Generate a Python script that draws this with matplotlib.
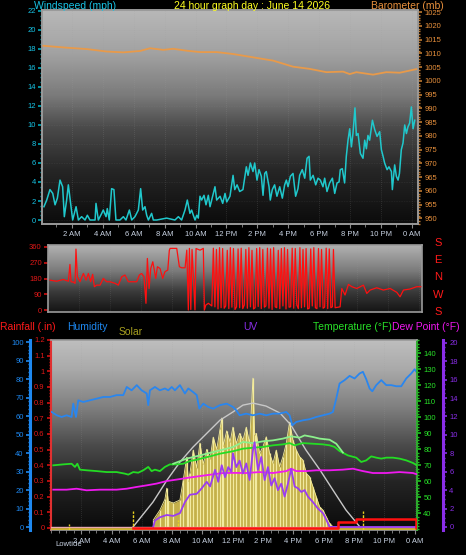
import numpy as np
import matplotlib
matplotlib.use('Agg')
import matplotlib.pyplot as plt
from matplotlib.colors import LinearSegmentedColormap
from matplotlib.ticker import MultipleLocator

plt.rcParams['font.family'] = ['Liberation Sans', 'DejaVu Sans']

# ---------------- data ----------------
hour_ticks = [2, 4, 6, 8, 10, 12, 14, 16, 18, 20, 22, 24]
hour_labels = ['2 AM', '4 AM', '6 AM', '8 AM', '10 AM', '12 PM', '2 PM', '4 PM', '6 PM', '8 PM', '10 PM', '0 AM']

wind_h = [0.19, 0.37, 0.58, 0.76, 0.91, 1.06, 1.23, 1.40, 1.51, 1.66, 1.77, 1.92, 2.05, 2.27, 2.42, 2.63, 2.85,
          3.00, 3.17, 3.50, 3.56, 3.71, 3.93, 4.03, 4.21, 4.29, 4.42, 4.57, 4.72, 4.85, 5.11, 5.33, 5.50, 5.72,
          5.87, 6.08, 6.30, 6.45, 6.58, 6.73, 6.84, 6.95, 7.16, 7.27, 7.49, 8.13, 8.67, 8.89, 9.10, 9.32, 9.47,
          9.64, 9.75, 9.86, 9.97, 10.08, 10.18, 10.29, 10.40, 10.55, 10.68, 10.83, 10.94, 11.11, 11.26, 11.37,
          11.59, 11.76, 11.91, 12.02, 12.23, 12.43, 12.54, 12.69, 12.86, 13.07, 13.29, 13.40, 13.55, 13.72,
          13.83, 13.98, 14.11, 14.26, 14.37, 14.48, 14.58, 14.76, 14.84, 14.97, 15.12, 15.27, 15.45, 15.62,
          15.77, 15.88, 15.99, 16.14, 16.31, 16.48, 16.63, 16.74, 16.91, 17.07, 17.22, 17.35, 17.43, 17.61,
          17.78, 17.93, 18.08, 18.25, 18.36, 18.51, 18.68, 18.86, 19.01, 19.16, 19.29, 19.37, 19.50, 19.65,
          19.76, 19.87, 19.98, 20.09, 20.19, 20.32, 20.41, 20.52, 20.67, 20.84, 20.95, 21.06, 21.16, 21.27,
          21.45, 21.60, 21.75, 21.92, 22.03, 22.14, 22.24, 22.40, 22.52, 22.68, 22.74, 22.89, 23.00, 23.11,
          23.20, 23.32, 23.43, 23.54, 23.65, 23.75, 23.86, 23.97, 24.08, 24.19]
wind_mph = [1.4, 2.1, 3.2, 2.8, 1.6, 2.3, 4.2, 3.5, 0.35, 2.1, 3.7, 1.75, 0.0, 1.4, 0.0, 0.35, 0.0,
            0.5, 0.0, 0.0, 1.75, 0.0, 0.7, 1.05, 0.35, 1.2, 0.0, 3.3, 3.2, 0.0, 0.0, 0.35, 0.0, 1.05,
            0.0, 0.35, 1.05, 3.3, 1.05, 1.4, 0.5, 0.0, 0.7, 0.0, 0.0, 0.2, 0.0, 0.35, 0.0, 1.05, 2.1,
            0.7, 1.05, 0.5, 0.0, 0.5, 0.2, 2.5, 2.1, 2.6, 1.6, 2.6, 1.4, 2.5, 3.5, 2.1,
            2.5, 1.75, 2.8, 1.9, 2.5, 4.7, 3.2, 3.7, 3.0, 3.2, 5.6, 4.7, 6.0, 5.1,
            6.0, 4.2, 5.3, 4.6, 2.6, 4.9, 5.1, 3.5, 2.1, 3.2, 3.7, 2.5, 3.5, 2.3,
            3.7, 4.2, 3.5, 4.6, 4.9, 2.5, 3.3, 4.7, 5.3, 4.4, 6.5, 6.7, 4.2, 4.7,
            3.7, 4.4, 4.2, 3.5, 4.4, 3.0, 3.9, 4.4, 2.8, 3.9, 4.0, 5.3, 5.4, 3.9,
            6.7, 8.4, 9.6, 7.7, 9.1, 11.8, 8.9, 9.1, 7.0, 6.5, 8.4, 7.5, 8.9, 8.4,
            10.5, 9.5, 8.8, 9.3, 7.4, 6.7, 6.0, 5.3, 5.6, 5.1, 3.2, 5.8, 4.6, 4.2,
            4.9, 7.4, 8.1, 10.0, 9.1, 9.8, 10.2, 11.9, 9.6, 10.5]

baro_h = [0.15, 1.66, 2.96, 4.25, 5.33, 6.41, 7.06, 7.92, 8.56, 9.43, 10.29, 11.37, 12.43, 13.72, 15.02,
          16.31, 17.39, 18.47, 19.55, 19.98, 20.41, 21.49, 22.35, 23.22, 24.29]
baro_mb = [1012.8, 1012.1, 1011.6, 1010.7, 1010.4, 1010.9, 1011.9, 1011.3, 1011.7, 1011.0, 1010.5, 1010.5,
           1009.8, 1008.6, 1007.4, 1005.2, 1004.4, 1003.2, 1003.4, 1002.5, 1003.2, 1002.3, 1003.2, 1003.0, 1004.3]

dir_h_a = [0.13, 0.56, 0.99, 1.21, 1.32, 1.42, 1.49, 1.64, 1.75, 1.81, 1.90, 2.07, 2.29, 2.46, 2.61, 2.76,
           2.89, 3.00, 3.15, 3.37, 3.58, 3.80, 4.01, 4.34, 4.55, 4.77, 4.98, 5.20, 5.52, 5.74, 5.91, 6.06,
           6.21, 6.34, 6.43, 6.54, 6.65, 6.78, 6.86, 6.97, 7.08, 7.25, 7.42, 7.57, 7.75, 7.85, 7.90, 8.11,
           8.33, 8.50, 8.65, 8.87, 8.98, 9.08, 9.15, 9.24, 9.32, 9.51, 9.58, 9.84, 10.05, 10.12, 10.21,
           10.38, 10.60]
dir_deg_a = [171, 165, 175, 168, 165, 260, 162, 160, 153, 347, 190, 162, 209, 171, 209, 162,
             204, 134, 143, 143, 181, 162, 162, 153, 143, 190, 200, 162, 162, 162, 200, 209,
             190, 40, 294, 124, 237, 275, 237, 181, 247, 237, 181, 219, 228, 340, 351, 351,
             351, 247, 241, 241, 341, 2, 351, 5, 345, 3, 350, 341, 351, 2, 30,
             40, 25]
dir_h_b = [10.70, 10.80, 10.90, 11.00, 11.10, 11.20, 11.30, 11.40, 11.50, 11.60, 11.70, 11.80, 11.90, 12.00,
           12.10, 12.20, 12.30, 12.40, 12.50, 12.60, 12.70, 12.80, 12.90, 13.00, 13.10, 13.20, 13.30, 13.40,
           13.50, 13.60, 13.70, 13.80, 13.90, 14.00, 14.10, 14.20, 14.30, 14.40, 14.50, 14.60, 14.70, 14.80,
           14.90, 15.00, 15.10, 15.20, 15.30, 15.40, 15.50, 15.60, 15.70, 15.80, 15.90, 16.00, 16.10, 16.20,
           16.30, 16.40, 16.50, 16.60, 16.70, 16.80, 16.90, 17.00, 17.10, 17.20, 17.30, 17.40, 17.50, 17.60,
           17.70, 17.80, 17.90, 18.00, 18.10, 18.20, 18.30, 18.40]
dir_deg_b = [352, 20, 345, 8, 355, 15, 350, 12, 25, 340,
             10, 355, 18, 350, 5, 20, 348, 15, 352, 10,
             30, 345, 12, 355, 20, 340, 8, 15, 350, 22,
             355, 10, 345, 18, 25, 352, 12, 348, 5, 355,
             20, 15, 340, 10, 350, 25, 355, 8, 345, 18,
             20, 352, 12, 350, 30, 10, 355, 15, 345, 20,
             350, 8, 12, 348, 25, 355, 15, 10, 350, 20,
             345, 12, 18, 352, 10, 348, 15, 20]
dir_h_c = [18.47, 18.58, 18.90, 19.01, 19.22, 19.44, 19.66, 19.98, 20.41, 20.63, 20.84, 21.27, 21.70, 22.14,
           22.57, 22.78, 23.00, 23.43, 23.86, 24.12]
dir_deg_c = [345, 15, 20, 124, 87, 147, 134, 124, 143, 96, 115, 128, 115, 124,
             102, 77, 115, 121, 134, 134]

hum_h = [0.04, 0.38, 0.70, 1.03, 1.36, 1.47, 1.65, 1.80, 2.13, 2.57, 3.02, 3.45, 3.89, 4.33, 4.77, 5.00,
         5.32, 5.66, 5.98, 6.32, 6.42, 6.53, 6.86, 7.19, 7.52, 7.74, 7.97, 8.18, 8.51, 8.84, 9.06, 9.39,
         9.62, 9.79, 10.05, 10.38, 10.71, 11.16, 11.60, 12.01, 12.23, 12.45, 12.89, 13.33, 13.77, 14.21,
         14.65, 15.09, 15.53, 15.75, 15.93, 16.19, 16.63, 17.07, 17.51, 17.95, 18.39, 18.61, 18.83, 19.05,
         19.38, 19.71, 20.04, 20.37, 20.59, 20.81, 21.03, 21.21, 21.47, 21.80, 22.13, 22.46, 22.79, 23.12,
         23.45, 23.78, 24.00, 24.16]
hum_pct = [62.3, 60.5, 59.6, 60.5, 59.6, 66.8, 59.6, 68.6, 67.7, 68.6, 69.5, 70.4, 70.4, 71.4, 71.4, 75.8,
           74.0, 76.8, 74.0, 72.3, 66.0, 74.0, 75.8, 74.0, 75.0, 74.0, 75.8, 74.0, 76.8, 72.3, 75.0, 73.0,
           71.4, 64.1, 66.8, 65.0, 64.1, 66.0, 66.8, 65.0, 63.2, 60.5, 61.4, 60.5, 61.4, 60.5,
           61.4, 61.4, 62.3, 60.5, 55.1, 56.9, 57.8, 58.4, 59.6, 60.5, 61.4, 62.3, 69.5, 77.7,
           79.5, 81.8, 80.4, 83.1, 84.0, 80.0, 75.0, 73.5, 76.8, 79.5, 76.8, 76.8, 76.2, 76.2,
           80.4, 83.1, 85.4, 83.6]

temp_h = [0.15, 0.81, 1.36, 1.58, 1.74, 1.91, 2.35, 3.02, 3.67, 4.33, 4.88, 5.10, 5.43, 5.76, 6.09, 6.42,
          6.64, 6.86, 7.19, 7.52, 7.85, 8.29, 8.73, 9.17, 9.62, 10.05, 10.50, 11.16, 12.01, 12.67, 13.33,
          13.99, 14.65, 15.31, 15.75, 16.08, 16.63, 17.29, 17.95, 18.39, 18.72, 19.05, 19.60, 20.15, 20.48,
          20.81, 21.14, 21.47, 21.80, 22.13, 22.57, 23.01, 23.45, 23.89, 24.16]
temp_f = [70.0, 70.6, 71.0, 69.0, 71.0, 67.3, 66.9, 66.4, 65.8, 65.8, 64.8, 64.2, 65.8, 65.4, 66.9, 69.0,
          66.4, 67.3, 66.4, 69.0, 70.6, 70.6, 71.0, 72.7, 73.5, 74.6, 75.6, 77.3, 78.8, 80.4, 81.0,
          81.5, 82.5, 83.1, 83.9, 82.5, 83.9, 83.5, 83.1, 82.5, 81.5, 78.9, 76.2, 74.8, 72.1,
          73.1, 75.6, 74.8, 74.2, 74.8, 74.8, 74.2, 73.1, 71.5, 70.0]

heat_h = [8.07, 8.96, 9.84, 10.71, 12.01, 12.67, 13.33, 13.99, 14.65, 15.31, 15.86, 16.41, 16.74, 17.29,
          17.73, 18.39, 18.83, 19.27]
heat_f = [71.0, 74.2, 76.2, 78.3, 81.4, 84.6, 83.9, 85.0, 85.6, 86.7, 88.1, 87.3, 88.7, 87.7,
          86.7, 86.0, 83.5, 78.0]

dew_h = [0.15, 1.03, 1.69, 2.35, 3.23, 4.33, 5.00, 5.66, 6.32, 6.97, 7.64, 8.29, 8.96, 9.84, 10.71, 11.37,
         12.01, 12.89, 13.77, 14.65, 15.53, 15.86, 16.19, 16.85, 17.51, 18.39, 19.27, 19.93, 20.59, 21.25,
         22.13, 23.01, 23.89, 24.16]
dew_f = [54.8, 54.8, 55.4, 54.4, 54.8, 54.8, 55.4, 56.5, 57.5, 58.6, 60.2, 61.1, 62.1, 63.3, 64.4, 65.2,
         65.3, 65.2, 65.8, 65.2, 66.4, 67.9, 66.4, 66.4, 66.9, 66.9, 67.3, 67.9, 66.4, 65.2,
         65.2, 65.8, 65.2, 64.4]

uv_h = [6.75, 6.86, 7.19, 7.64, 8.07, 8.51, 8.84, 9.17, 9.62, 9.95, 10.28, 10.50, 10.83, 11.04, 11.27,
        11.49, 11.70, 11.90, 12.01, 12.23, 12.45, 12.67, 12.89, 13.11, 13.33, 13.44, 13.66, 13.88, 14.10,
        14.32, 14.54, 14.76, 14.98, 15.20, 15.42, 15.64, 15.86, 16.08, 16.30, 16.52, 16.74, 16.96, 17.29,
        17.62, 17.95, 18.17, 18.39, 24.10]
uv_idx = [0.0, 0.7, 1.05, 1.3, 1.2, 1.5, 2.7, 3.5, 3.6, 4.2, 4.9, 4.4, 6.2, 4.9, 6.7,
          5.4, 6.5, 6.0, 8.0, 6.5, 7.2, 5.8, 6.9, 5.1, 8.3, 9.2, 6.2, 7.6, 5.1,
          6.5, 4.5, 5.3, 4.0, 4.7, 3.3, 4.7, 6.3, 4.4, 4.2, 3.8, 4.0, 3.3, 2.7,
          2.0, 1.5, 0.8, 0.0, 0.0]

solar_h = [6.75, 7.19, 7.52, 7.64, 7.74, 8.07, 8.51, 8.73, 8.96, 9.06, 9.17, 9.39, 9.62, 9.83, 10.05,
           10.28, 10.50, 10.71, 10.94, 11.16, 11.27, 11.37, 11.60, 11.82, 12.01, 12.23, 12.45, 12.67, 12.89,
           13.11, 13.33, 13.44, 13.55, 13.77, 13.99, 14.21, 14.43, 14.65, 14.87, 15.09, 15.31, 15.53, 15.75,
           15.97, 16.19, 16.41, 16.63, 16.85, 17.07, 17.29, 17.51, 17.73, 17.95, 18.17, 18.39, 18.61, 18.83]
solar_wm2 = [38, 92, 150, 210, 140, 130, 146, 254, 378, 250, 290, 416, 320, 454, 340,
             420, 370, 486, 420, 530, 589, 440, 520, 460, 540, 452, 506, 470, 540,
             452, 805, 500, 506, 398, 434, 488, 398, 344, 416, 326, 380, 452, 567,
             470, 416, 380, 362, 290, 272, 218, 164, 110, 92, 56, 20, 2, 0]

solar_max_h = [5.41, 6.73, 7.66, 8.51, 9.37, 10.30, 11.16, 12.01, 12.67, 13.33, 14.19, 15.12, 15.84, 16.83,
               17.76, 18.61, 19.47, 20.40]
solar_max_wm2 = [0, 135, 254, 351, 432, 508, 578, 622, 659, 670, 654, 616, 551, 416, 308, 200, 92, 0]

rain_h = [5.40, 18.94, 20.15, 24.07, 24.16]
rain_in = [0.0, 0.04, 0.055, 0.0, 0.0]

tide_h = [1.19, 5.41, 8.38, 20.60]
tide_level = [1.5, 8.5, 4.0, 8.5]

# ---------------- figure ----------------
W, H = 466, 555
fig = plt.figure(figsize=(W / 100, H / 100), dpi=100, facecolor='black')


def px_axes(l, t, r, b):
    return fig.add_axes([l / W, 1 - b / H, (r - l) / W, (b - t) / H])


def gradient(ax, stops):
    cmap = LinearSegmentedColormap.from_list('g', stops)
    g = np.linspace(0, 1, 256).reshape(-1, 1)
    ax.imshow(g, extent=[0, 1, 0, 1], transform=ax.transAxes, aspect='auto',
              cmap=cmap, origin='lower', zorder=0, interpolation='bilinear')


def style_frame(ax, color='#9a9a9a'):
    for s in ax.spines.values():
        s.set_color(color)
        s.set_linewidth(1.2)


TICKLAB = '#c8d2e2'
FS = 5.5

# ---------- panel 1: wind / barometer ----------
ax1 = px_axes(42, 10, 418, 224)
ax1.set_facecolor('black')
gradient(ax1, [(0, '#0c0c0c'), (0.25, '#262626'), (0.45, '#4a4a4a'), (0.6, '#7a7a7a'), (0.8, '#a2a2a2'), (1, '#b8b8b8')])
for hx in hour_ticks:
    ax1.axvline(hx, color='#a0a0a0', lw=0.5, ls=(0, (1, 2)), alpha=0.35, zorder=1)
for yv in range(0, 23, 2):
    ax1.axhline(yv, color='#a0a0a0', lw=0.4, ls=(0, (1, 2)), alpha=0.25, zorder=1)
ax1.plot(wind_h, wind_mph, color='#20c8cc', lw=1.1, zorder=4)
ax1.set_xlim(0.065, 24.4)
ax1.set_ylim(-0.42, 22.1)
ax1b = ax1.twinx()
ax1b.plot(baro_h, baro_mb, color='#e89a4a', lw=1.3, zorder=3)
ax1b.set_ylim(948.0, 1025.8)
style_frame(ax1)
style_frame(ax1b)
ax1.yaxis.set_major_locator(MultipleLocator(2))
ax1.yaxis.set_minor_locator(MultipleLocator(0.5))
ax1.tick_params(axis='y', which='major', colors='#00a8b8', labelcolor='#18c4e6', labelsize=FS, length=3, width=1.2, pad=1.5)
ax1.tick_params(axis='y', which='minor', colors='#00a8b8', length=1.5, width=1)
ax1b.yaxis.set_major_locator(MultipleLocator(5))
ax1b.yaxis.set_minor_locator(MultipleLocator(1))
ax1b.tick_params(axis='y', which='major', colors='#c07a30', labelcolor='#e8903c', labelsize=FS, length=3, width=1.2, pad=1.5)
ax1b.tick_params(axis='y', which='minor', colors='#c07a30', length=1.5, width=1)
ax1.set_xticks(hour_ticks)
ax1.set_xticklabels(hour_labels)
ax1.xaxis.set_minor_locator(MultipleLocator(1))
ax1.tick_params(axis='x', which='major', colors='#8a8a8a', labelcolor=TICKLAB, labelsize=FS, length=3, pad=2)
ax1.tick_params(axis='x', which='minor', colors='#8a8a8a', length=2)

fig.text(34 / W, 1 - 6 / H, 'Windspeed (mph)', color='#18c4e6', fontsize=7.5, va='center', ha='left')
fig.text(252 / W, 1 - 6 / H, '24 hour graph day : June 14 2026', color='#ffff20', fontsize=7.5, va='center', ha='center')
fig.text(371 / W, 1 - 6 / H, 'Barometer (mb)', color='#e8903c', fontsize=7.5, va='center', ha='left')

# ---------- panel 2: wind direction ----------
ax2 = px_axes(48, 244.5, 422, 312.3)
ax2.set_facecolor('black')
gradient(ax2, [(0, '#141414'), (0.3, '#3a3a3a'), (0.6, '#7a7a7a'), (1, '#b4b4b4')])
for hx in hour_ticks:
    ax2.axvline(hx, color='#a0a0a0', lw=0.5, ls=(0, (1, 2)), alpha=0.3, zorder=1)
ax2.plot(dir_h_a + dir_h_b + dir_h_c, dir_deg_a + dir_deg_b + dir_deg_c, color='#ff1010', lw=0.9, zorder=3)
ax2.set_xlim(0, 24.2)
ax2.set_ylim(-11, 373)
style_frame(ax2)
ax2.set_yticks([0, 90, 180, 270, 360])
ax2.tick_params(axis='y', colors='#d01010', labelcolor='#e01818', labelsize=FS, length=3, width=1.2, pad=1.5)
ax2.set_xticks([])
for i, lab in enumerate(['S', 'E', 'N', 'W', 'S']):
    fig.text(438 / W, 1 - (243 + i * 17.2) / H, lab, color='#ff1a1a', fontsize=8, ha='center', va='center')

# ---------- panel 3: rain / humidity / solar / uv / temperature ----------
ax3 = px_axes(51, 340, 417, 530)
ax3.set_facecolor('black')
gradient(ax3, [(0, '#0a0a0a'), (0.25, '#242424'), (0.45, '#4c4c4c'), (0.65, '#808080'), (0.85, '#aaaaaa'), (1, '#bebebe')])
for hx in hour_ticks:
    ax3.axvline(hx, color='#a0a0a0', lw=0.5, ls=(0, (1, 2)), alpha=0.35, zorder=1)
ax3.set_xlim(0, 24.16)
rain_ticks = [0, 0.1, 0.2, 0.3, 0.4, 0.5, 0.6, 0.7, 0.8, 0.9, 1.0, 1.1, 1.2]
ax3.set_yticks(rain_ticks)
ax3.set_yticklabels(['%g' % v for v in rain_ticks])
ax3.yaxis.set_minor_locator(MultipleLocator(0.02))
ax3.set_ylim(-0.013, 1.2)
ax3.tick_params(axis='y', which='major', colors='#d01010', labelcolor='#e01818', labelsize=FS, length=3, width=1.2, pad=1.5)
ax3.tick_params(axis='y', which='minor', colors='#d01010', length=1.5, width=1)
style_frame(ax3)
ax3.spines['left'].set_color('#e03030')
ax3.spines['left'].set_linestyle((0, (1, 1)))
ax3.spines['left'].set_linewidth(1.5)
ax3.set_xticks(hour_ticks)
ax3.set_xticklabels(hour_labels)
ax3.xaxis.set_minor_locator(MultipleLocator(0.5))
ax3.tick_params(axis='x', which='major', colors='#8a8a8a', labelcolor=TICKLAB, labelsize=FS, length=3, pad=3)
ax3.tick_params(axis='x', which='minor', colors='#8a8a8a', length=2)
fig.text(55 / W, 1 - 545 / H, 'Lowtide', color=TICKLAB, fontsize=FS, ha='left', va='center')

# solar (hidden axis)
axS = ax3.twinx()
axS.fill_between(solar_h, 0, solar_wm2, color='#c4b04a', lw=0, zorder=2)
axS.vlines(solar_h, 0, solar_wm2, color='#f2eaa0', lw=0.9, zorder=2.5)
axS.plot(solar_h, solar_wm2, color='#f4ec9a', lw=0.6, zorder=3)
axS.plot(solar_max_h, solar_max_wm2, color='#c8c8c8', lw=1.0, zorder=4)
axS.set_ylim(-16, 1011)
axS.axis('off')

# humidity (left offset)
axH = ax3.twinx()
axH.yaxis.set_label_position('left')
axH.yaxis.tick_left()
axH.spines['left'].set_position(('axes', -0.0574))
axH.spines['left'].set_visible(True)
axH.spines['left'].set_color('#1e88f0')
axH.spines['left'].set_linewidth(2.2)
for s in ['right', 'top', 'bottom']:
    axH.spines[s].set_visible(False)
axH.plot(hum_h, hum_pct, color='#2a86ee', lw=1.3, zorder=3)
for th, tl in zip(tide_h, tide_level):
    axH.vlines(th, -1.5, tl, color='#e8d020', lw=1.0, linestyles=(0, (2, 1)), zorder=5)
axH.axhline(-0.9, color='#e0c020', lw=1.2, zorder=2)
axH.axhline(0.3, color='#e8a8b0', lw=1.0, zorder=2)
axH.set_ylim(-1.5, 101.2)
axH.yaxis.set_major_locator(MultipleLocator(10))
axH.yaxis.set_minor_locator(MultipleLocator(2))
axH.tick_params(axis='y', which='major', colors='#1e88f0', labelcolor='#1e88f0', labelsize=FS, length=3, width=1.2, pad=1.5)
axH.tick_params(axis='y', which='minor', colors='#1e88f0', length=1.5, width=1)

# temperature / dew point (right)
axT = ax3.twinx()
axT.plot(temp_h, temp_f, color='#24dc24', lw=1.3, zorder=3)
axT.plot(heat_h, heat_f, color='#8cf08c', lw=1.3, zorder=3)
axT.plot(dew_h, dew_f, color='#f018f0', lw=1.3, zorder=3)
axT.set_yticks([40, 50, 60, 70, 80, 90, 100, 110, 120, 130, 140])
axT.yaxis.set_minor_locator(MultipleLocator(2))
axT.set_ylim(29.6, 148.3)
axT.tick_params(axis='y', which='major', colors='#20c020', labelcolor='#28e028', labelsize=FS, length=3, width=1.2, pad=1.5)
axT.tick_params(axis='y', which='minor', colors='#20c020', length=1.5, width=1)
for s in ['left', 'top', 'bottom']:
    axT.spines[s].set_visible(False)
axT.spines['right'].set_color('#20b020')
axT.spines['right'].set_linestyle((0, (2, 1)))
axT.spines['right'].set_linewidth(1.2)

# UV (right offset)
axU = ax3.twinx()
axU.plot(uv_h, uv_idx, color='#9a3cf0', lw=1.3, zorder=3)
axU.spines['right'].set_position(('axes', (443 - 51) / 366))
axU.spines['right'].set_color('#8a2ee8')
axU.spines['right'].set_linewidth(2.2)
for s in ['left', 'top', 'bottom']:
    axU.spines[s].set_visible(False)
axU.set_ylim(-0.33, 20.3)
axU.yaxis.set_major_locator(MultipleLocator(2))
axU.yaxis.set_minor_locator(MultipleLocator(0.5))
axU.tick_params(axis='y', which='major', colors='#8a2ee8', labelcolor='#8a2ee8', labelsize=FS, length=3, width=1.2, pad=1.5)
axU.tick_params(axis='y', which='minor', colors='#8a2ee8', length=1.5, width=1)

# rainfall line on top
axR = ax3.twinx()
axR.plot(rain_h, rain_in, color='#ff1010', lw=1.8, drawstyle='steps-post', zorder=5)
axR.set_ylim(-0.013, 1.2)
axR.axis('off')

fig.text(0 / W, 1 - 327.5 / H, 'Rainfall (.in)', color='#ff1a1a', fontsize=7.5, ha='left', va='center')
fig.text(67 / W, 1 - 327 / H, 'Humidity', color='#1e88f0', fontsize=7.5, ha='left', va='center')
fig.text(119 / W, 1 - 332 / H, 'Solar', color='#a8a020', fontsize=7.5, ha='left', va='center')
fig.text(243 / W, 1 - 327 / H, 'UV', color='#8a2ee8', fontsize=7.5, ha='left', va='center')
fig.text(313 / W, 1 - 327 / H, 'Temperature (\u00b0F)', color='#28e028', fontsize=7.5, ha='left', va='center')
fig.text(392 / W, 1 - 327 / H, 'Dew Point (\u00b0F)', color='#f018f0', fontsize=7.5, ha='left', va='center')

fig.savefig('out.png', dpi=100, facecolor='black')
